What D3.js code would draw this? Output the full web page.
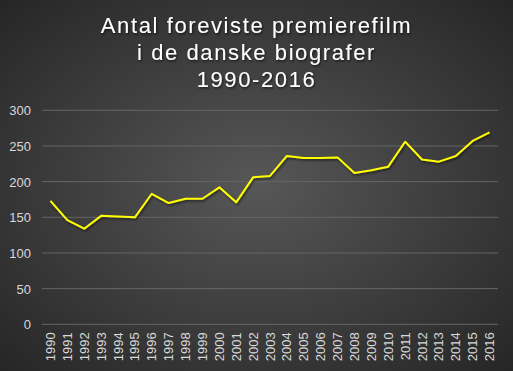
<!DOCTYPE html>
<html lang="da">
<head>
    <meta charset="UTF-8">
    <title>Antal foreviste premierefilm</title>
    <script src="https://d3js.org/d3.v7.min.js"></script>
    <style>
        body { margin: 0; background: #333; }
        text { font-family: 'Liberation Sans', Arial, sans-serif; }
    </style>
</head>
<body>
<script>
    const width = 513;
    const height = 371;

    const titleLines = ["Antal foreviste premierefilm", "i de danske biografer", "1990-2016"];

    const years = ["1990","1991","1992","1993","1994","1995","1996","1997","1998","1999",
                   "2000","2001","2002","2003","2004","2005","2006","2007","2008","2009",
                   "2010","2011","2012","2013","2014","2015","2016"];

    const films = [173, 146, 134, 152, 151, 150, 183, 170, 176, 176,
                   192, 171, 206, 208, 236, 233, 233, 234, 212, 216,
                   221, 256, 231, 228, 236, 257, 269];

    const yTicks = [0, 50, 100, 150, 200, 250, 300];

    const plot = {left: 42, right: 498, top: 110.3, bottom: 324.3};

    const svg = d3.select("body").append("svg")
        .attr("width", width).attr("height", height);

    // background: radial gradient, lighter in the middle
    const defs = svg.append("defs");
    const grad = defs.append("radialGradient")
        .attr("id", "bg")
        .attr("cx", "50%").attr("cy", "50%").attr("r", "70%");
    grad.append("stop").attr("offset", "0%").attr("stop-color", "#575757");
    grad.append("stop").attr("offset", "100%").attr("stop-color", "#262626");

    const shadow = defs.append("filter").attr("id", "shadow")
        .attr("x", "-10%").attr("y", "-10%").attr("width", "120%").attr("height", "130%");
    shadow.append("feDropShadow")
        .attr("dx", 1).attr("dy", 1.5).attr("stdDeviation", 1)
        .attr("flood-color", "#000").attr("flood-opacity", 0.6);

    svg.append("rect")
        .attr("width", width).attr("height", height)
        .attr("fill", "url(#bg)");

    const x = d3.scaleBand().domain(years).range([plot.left, plot.right]);
    const y = d3.scaleLinear().domain([0, 300]).range([plot.bottom, plot.top]);

    // gridlines
    svg.append("g")
        .selectAll("line")
        .data(yTicks)
        .enter()
        .append("line")
        .attr("x1", plot.left).attr("x2", plot.right)
        .attr("y1", d => y(d)).attr("y2", d => y(d))
        .style("stroke", "#666666")
        .style("stroke-width", 1);

    // y axis labels
    const yAxis = svg.append("g")
        .attr("transform", `translate(${plot.left - 11},0)`)
        .call(d3.axisLeft(y).tickValues(yTicks).tickSize(0).tickPadding(0));
    yAxis.select(".domain").remove();
    yAxis.selectAll("text")
        .attr("fill", "#d9d9d9")
        .style("font-size", "13px")
        .attr("dy", "0.35em");

    // x axis labels
    const xAxis = svg.append("g")
        .attr("transform", `translate(0,${plot.bottom})`)
        .call(d3.axisBottom(x).tickSize(0).tickPadding(0));
    xAxis.select(".domain").remove();
    xAxis.selectAll("text")
        .attr("fill", "#d9d9d9")
        .style("font-size", "13px")
        .style("text-anchor", "end")
        .attr("transform", "rotate(-90)")
        .attr("x", -8)
        .attr("y", 0)
        .attr("dy", "0.35em");

    // line
    const line = d3.line()
        .x((d, i) => x(years[i]) + x.bandwidth() / 2)
        .y(d => y(d));

    svg.append("path")
        .datum(films)
        .attr("d", line)
        .attr("filter", "url(#shadow)")
        .style("fill", "none")
        .style("stroke", "#ffff00")
        .style("stroke-width", 2)
        .style("stroke-linejoin", "round");

    // title
    svg.append("g")
        .selectAll("text")
        .data(titleLines)
        .enter()
        .append("text")
        .attr("x", width / 2)
        .attr("y", (d, i) => 33 + i * 27)
        .attr("text-anchor", "middle")
        .attr("fill", "#ffffff")
        .attr("filter", "url(#shadow)")
        .style("font-size", "22px")
        .style("letter-spacing", "1.6px")
        .text(d => d);
</script>
</body>
</html>
